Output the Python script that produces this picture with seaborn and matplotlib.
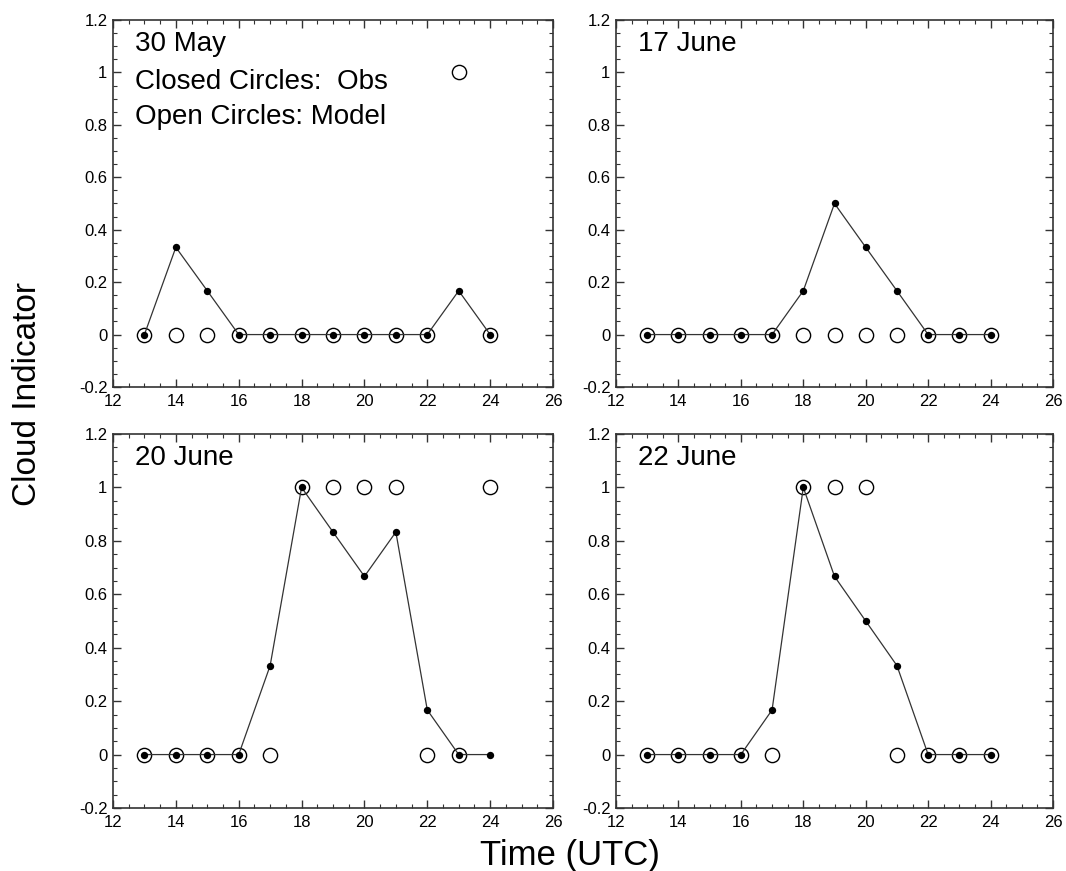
import numpy as np
import pandas as pd
import seaborn as sns
import matplotlib
matplotlib.use("Agg")
import matplotlib.pyplot as plt
from matplotlib.ticker import MultipleLocator, FuncFormatter

hours = [13, 14, 15, 16, 17, 18, 19, 20, 21, 22, 23, 24]
panels = ["30 May", "17 June", "20 June", "22 June"]

obs_30may = [0, 0.333, 0.167, 0, 0, 0, 0, 0, 0, 0, 0.167, 0]
mod_30may = [0, 0, 0, 0, 0, 0, 0, 0, 0, 0, 1, 0]
obs_17jun = [0, 0, 0, 0, 0, 0.167, 0.5, 0.333, 0.167, 0, 0, 0]
mod_17jun = [0, 0, 0, 0, 0, 0, 0, 0, 0, 0, 0, 0]
obs_20jun = [0, 0, 0, 0, 0.333, 1, 0.833, 0.667, 0.833, 0.167, 0, 0]
mod_20jun = [0, 0, 0, 0, 0, 1, 1, 1, 1, 0, 0, 1]
obs_22jun = [0, 0, 0, 0, 0.167, 1, 0.667, 0.5, 0.333, 0, 0, 0]
mod_22jun = [0, 0, 0, 0, 0, 1, 1, 1, 0, 0, 0, 0]

obs = [obs_30may, obs_17jun, obs_20jun, obs_22jun]
mod = [mod_30may, mod_17jun, mod_20jun, mod_22jun]

sns.set_style("ticks")
plt.rcParams["font.family"] = ["Liberation Sans", "DejaVu Sans"]
plt.rcParams["text.color"] = "black"
plt.rcParams["xtick.labelcolor"] = "black"
plt.rcParams["ytick.labelcolor"] = "black"

fig = plt.figure(figsize=(10.66, 8.71), dpi=100)
L1, R1 = 113 / 1066, 553 / 1066
L2, R2 = 616 / 1066, 1053 / 1066
T1, B1 = 1 - 20 / 871, 1 - 387 / 871
T2, B2 = 1 - 434 / 871, 1 - 808 / 871
rects = [
    [L1, B1, R1 - L1, T1 - B1],
    [L2, B1, R2 - L2, T1 - B1],
    [L1, B2, R1 - L1, T2 - B2],
    [L2, B2, R2 - L2, T2 - B2],
]

fmt = FuncFormatter(lambda v, p: ("%g" % round(v, 3)))

for i, name in enumerate(panels):
    ax = fig.add_axes(rects[i])
    dfo = pd.DataFrame({"hour": hours, "val": obs[i]})
    dfm = pd.DataFrame({"hour": hours, "val": mod[i]})
    sns.scatterplot(data=dfm, x="hour", y="val", ax=ax, s=105, marker="o",
                    facecolor="white", edgecolor="black", linewidth=1.0, zorder=2)
    sns.lineplot(data=dfo, x="hour", y="val", ax=ax, color="#333333",
                 linewidth=0.9, zorder=3)
    sns.scatterplot(data=dfo, x="hour", y="val", ax=ax, s=28, marker="o",
                    color="black", edgecolor="black", linewidth=0, zorder=4)
    ax.set_xlim(12, 26)
    ax.set_ylim(-0.2, 1.2)
    ax.xaxis.set_major_locator(MultipleLocator(2))
    ax.xaxis.set_minor_locator(MultipleLocator(0.5))
    ax.yaxis.set_major_locator(MultipleLocator(0.2))
    ax.yaxis.set_minor_locator(MultipleLocator(0.05))
    ax.xaxis.set_major_formatter(fmt)
    ax.yaxis.set_major_formatter(fmt)
    ax.tick_params(which="both", direction="in", top=True, right=True,
                   labelsize=12, color="#333333", labelcolor="black")
    ax.tick_params(axis="x", pad=5)
    ax.tick_params(axis="y", pad=4)
    ax.tick_params(which="major", length=6, width=1)
    ax.tick_params(which="minor", length=3, width=0.8)
    for sp in ax.spines.values():
        sp.set_visible(True)
        sp.set_linewidth(1.2)
        sp.set_color("#333333")
    ax.set_xlabel("")
    ax.set_ylabel("")
    ax.text(0.05, 0.935, name, transform=ax.transAxes, fontsize=20,
            va="center", ha="left", color="black")
    if i == 0:
        ax.text(0.05, 0.83, "Closed Circles:  Obs", transform=ax.transAxes,
                fontsize=20, va="center", ha="left", color="black")
        ax.text(0.05, 0.735, "Open Circles: Model", transform=ax.transAxes,
                fontsize=20, va="center", ha="left", color="black")

fig.text(28 / 1066, 1 - 394 / 871, "Cloud Indicator", rotation=90,
         fontsize=24, va="center", ha="center", color="black")
fig.text(570 / 1066, 1 - 855 / 871, "Time (UTC)", fontsize=25,
         va="center", ha="center", color="black")

fig.savefig("out.png", dpi=100)
